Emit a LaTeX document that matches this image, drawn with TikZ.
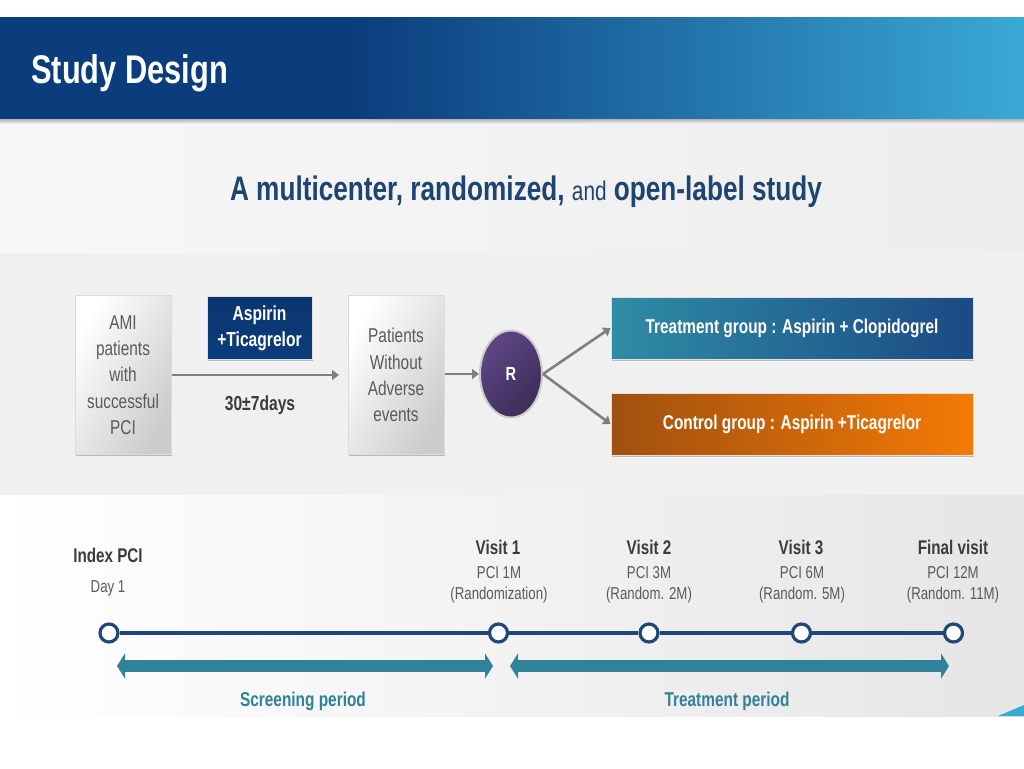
\documentclass[tikz,border=0pt]{standalone}
\usepackage{fontspec}
\setmainfont[FakeStretch=0.77]{Liberation Sans}
\usetikzlibrary{arrows.meta,shadows,calc,shapes.geometric}
\definecolor{navy}{HTML}{0B3C7C}
\definecolor{sky}{HTML}{3AA9D6}
\definecolor{titleblue}{HTML}{1E4470}
\definecolor{txtgray}{HTML}{5A5A5A}
\definecolor{dark}{HTML}{3C3C3C}
\definecolor{tealc}{HTML}{2F8299}
\definecolor{linec}{HTML}{1F4878}
\definecolor{arrowgray}{HTML}{7F7F7F}
\definecolor{purpA}{HTML}{5E4585}
\definecolor{purpB}{HTML}{3D2E58}
\definecolor{groupT}{HTML}{2F8CA6}
\definecolor{groupN}{HTML}{1B4A84}
\definecolor{groupB}{HTML}{A0500F}
\definecolor{groupO}{HTML}{F47A05}
\pgfdeclarehorizontalshading{headerband}{100bp}{color(0bp)=(navy); color(42bp)=(navy); color(75bp)=(sky); color(100bp)=(sky)}
\tikzset{
  x=1pt,y=-1pt,
  softshadow/.style={drop shadow={shadow xshift=0.5pt,shadow yshift=-1.5pt,fill=black,opacity=0.22}},
  graybox/.style={draw=black!14,line width=1pt,minimum width=96pt,minimum height=159pt,inner sep=0pt,align=center,
    left color=white,right color=black!20,shading angle=60,
    softshadow,text=txtgray,font=\fontsize{20}{26.3}\selectfont},
  flowarrow/.style={draw=arrowgray,line width=2.6pt,-{Triangle[length=7pt,width=10pt]}},
  groupbox/.style={draw=black!12,line width=1pt,minimum width=362pt,minimum height=62pt,inner sep=0pt,softshadow,
    text=white,font=\bfseries\fontsize{20}{24}\selectfont},
  visit/.style={circle,draw=linec,line width=3.2pt,fill=white,minimum size=18pt,inner sep=0pt},
  vhead/.style={text=dark,font=\bfseries\fontsize{19.8}{23}\selectfont,align=center},
  vsub/.style={text=txtgray,font=\fontsize{17.2}{21}\selectfont,align=center},
  period/.style={text=tealc,font=\bfseries\fontsize{20}{24}\selectfont},
  periodarrow/.style={draw=tealc,line width=12pt,{Triangle[length=8pt,width=25pt]}-{Triangle[length=8pt,width=25pt]}},
}
\begin{document}
\begin{tikzpicture}
\useasboundingbox (0,0) rectangle (1024,768);
\fill[white] (0,0) rectangle (1024,768);
% backgrounds
\shade[left color=black!3,right color=black!7] (0,118) rectangle (1024,253);
\fill[black!6] (0,253) rectangle (1024,495);
\shade[shading angle=45,left color=white,right color=black!10] (0,495) rectangle (1024,716);
\fill[sky] (1024,705) -- (1024,716) -- (998,716) -- cycle;
\shade[top color=black!35,bottom color=black!3] (0,118) rectangle (1024,124);
\shade[shading=headerband] (0,18) rectangle (1024,118);
\node[anchor=west,inner sep=0pt,text=white,font=\bfseries\fontsize{40}{46}\selectfont] (title) at (31,73) {Study Design};
\node[text=titleblue,inner sep=0pt,font=\bfseries\fontsize{34}{40}\selectfont] (sub) at (526,192)
  {A multicenter, randomized, {\mdseries\fontsize{27}{30}\selectfont and} open-label study};
% flow
\node[graybox] (ami) at (123,375) {AMI\\patients\\with\\successful\\PCI};
\node[graybox] (pts) at (396,375) {Patients\\Without\\Adverse\\events};
\node[draw=black!12,line width=1pt,minimum width=105pt,minimum height=63pt,inner sep=0pt,align=center,
  top color=navy!90!black,bottom color=navy,softshadow,text=white,font=\bfseries\fontsize{20.3}{26}\selectfont]
  (asp) at (259.5,328) {Aspirin\\+Ticagrelor};
\node[text=dark,inner sep=0pt,font=\bfseries\fontsize{20.3}{24}\selectfont] (days) at (260,405) {30±7days};
\node[ellipse,draw=black!20,line width=2pt,minimum width=62pt,minimum height=87pt,inner sep=0pt,
  left color=purpA,right color=purpB,shading angle=45,text=white,font=\bfseries\fontsize{19}{20}\selectfont] (r) at (511,374) {R};
\node[groupbox,left color=groupT,right color=groupN] (treat) at (792,328) {Treatment group : Aspirin + Clopidogrel};
\node[groupbox,left color=groupB,right color=groupO] (ctrl) at (792,424) {Control group : Aspirin +Ticagrelor};
\coordinate (amiEnd) at (339,375);
\draw[flowarrow] (ami.east) -- (amiEnd);
\draw[flowarrow] (pts.east |- r.west) -- (r.west);
\draw[flowarrow] (r.east) -- (treat.west);
\draw[flowarrow] (r.east) -- (ctrl.west);
% timeline
\node[visit] (v0) at (109,633) {};
\node[visit] (v1) at (498.5,633) {};
\node[visit] (v2) at (649,633) {};
\node[visit] (v3) at (801.5,633) {};
\node[visit] (v4) at (953.5,633) {};
\foreach \a/\b in {v0/v1,v1/v2,v2/v3,v3/v4}{\draw[linec,line width=3.6pt] (\a) -- (\b);}
\node[vhead] (h0) at (108,555) {Index PCI};
\node[vsub] (s0) at (108,588) {Day 1};
\node[vhead] (h1) at (498,547) {Visit 1};
\node[vsub] (s1) at (499,585) {PCI 1M\\(Randomization)};
\node[vhead] (h2) at (649,547) {Visit 2};
\node[vsub] (s2) at (649,585) {PCI 3M\\(Random. 2M)};
\node[vhead] (h3) at (801,547) {Visit 3};
\node[vsub] (s3) at (802,585) {PCI 6M\\(Random. 5M)};
\node[vhead] (h4) at (953,547) {Final visit};
\node[vsub] (s4) at (953,585) {PCI 12M\\(Random. 11M)};
\coordinate (sa) at (117,666);
\coordinate (sb) at (493,666);
\coordinate (ta) at (510,666);
\coordinate (tb) at (949,666);
\draw[periodarrow] (sa) -- (sb);
\draw[periodarrow] (ta) -- (tb);
\node[period] (sp) at (303,701) {Screening period};
\node[period] (tp) at (727,701) {Treatment period};
\end{tikzpicture}
\end{document}
